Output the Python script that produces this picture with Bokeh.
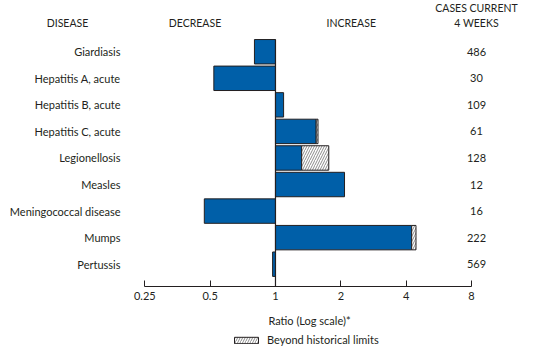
from bokeh.plotting import figure
from bokeh.layouts import column
from bokeh.models import Range1d, FixedTicker, LogAxis, Label, Legend, LegendItem
from bokeh.embed import file_html
from bokeh.resources import INLINE

diseases = ["Giardiasis", "Hepatitis A, acute", "Hepatitis B, acute", "Hepatitis C, acute",
            "Legionellosis", "Measles", "Meningococcal disease", "Mumps", "Pertussis"]
ratios = [0.80, 0.52, 1.09, 1.54, 1.32, 2.08, 0.47, 4.24, 0.97]
beyond = [None, None, None, 1.57, 1.76, None, None, 4.44, None]
cases = ["486", "30", "109", "61", "128", "12", "16", "222", "569"]
tick_vals = [0.25, 0.5, 1, 2, 4, 8]
tick_labels = ["0.25", "0.5", "1", "2", "4", "8"]

FONT = "Lato"
TXT = "#231f20"
BLUE = "#005fa8"
EDGE = "#231f20"
HATCH = dict(fill_color="white", line_color=EDGE, line_width=1,
             hatch_pattern="/", hatch_color="#8c8c8c", hatch_scale=5, hatch_weight=1)

# frame spans the full width; 0.25 sits at x=144, 8 at x=471
X0 = 0.25 * 2 ** (-144.3 / 65.34)
X1 = 8 * 2 ** (79 / 65.34)

p = figure(width=550, height=330, output_backend="svg", toolbar_location=None,
           x_axis_type="log", x_range=Range1d(X0, X1), y_range=Range1d(8.84, -1.93),
           min_border_left=0, min_border_right=0, min_border_top=0, min_border_bottom=44,
           y_axis_location=None)
p.outline_line_color = None
p.grid.visible = False
p.background_fill_color = None
p.border_fill_color = "white"

ys = list(range(len(diseases)))
left = [min(r, 1) for r in ratios]
right = [max(r, 1) for r in ratios]
p.hbar(y=ys, left=left, right=right, height=0.92, fill_color=BLUE, line_color=EDGE, line_width=1)

hy = [i for i, b in enumerate(beyond) if b is not None]
hl = [ratios[i] for i in hy]
hr = [beyond[i] for i in hy]
p.hbar(y=hy, left=hl, right=hr, height=0.92, **HATCH)

p.segment(x0=[1], y0=[-0.46], x1=[1], y1=[8.84], line_color=EDGE, line_width=1.2)

# x axis
xa = p.xaxis[0]
xa.bounds = (0.25, 8)
xa.ticker = FixedTicker(ticks=tick_vals, minor_ticks=[])
xa.major_label_overrides = {v: l for v, l in zip(tick_vals, tick_labels)}
xa.major_tick_in = 6
xa.major_tick_out = 0
xa.minor_tick_line_color = None
xa.axis_line_color = EDGE
xa.major_tick_line_color = EDGE
xa.major_label_text_font = FONT
xa.major_label_text_font_size = "11px"
xa.major_label_text_color = TXT
xa.major_label_standoff = 5

# axis title drawn as a single-tick axis so it can sit under the scale's centre
title_pos = 0.25 * 2 ** ((309 - 144.3) / 65.34)
ta = LogAxis(ticker=FixedTicker(ticks=[title_pos], minor_ticks=[]),
             major_label_overrides={title_pos: "Ratio (Log scale)*"})
ta.axis_line_color = None
ta.major_tick_line_color = None
ta.minor_tick_line_color = None
ta.major_tick_in = 0
ta.major_tick_out = 0
ta.major_label_standoff = 11
ta.major_label_text_font = FONT
ta.major_label_text_font_size = "11px"
ta.major_label_text_color = TXT
p.add_layout(ta, "below")

# disease names and counts
for i, (d, c) in enumerate(zip(diseases, cases)):
    p.add_layout(Label(x=120, y=i, x_units="screen", y_units="data", text=d,
                       text_font=FONT, text_font_size="11px", text_color=TXT,
                       text_align="right", text_baseline="middle"))
    p.add_layout(Label(x=476, y=i, x_units="screen", y_units="data", text=c,
                       text_font=FONT, text_font_size="11px", text_color=TXT,
                       text_align="center", text_baseline="middle"))

headers = [("DISEASE", 67, -1.09), ("DECREASE", 194.5, -1.09), ("INCREASE", 350.7, -1.09),
           ("CASES CURRENT", 476, -1.63), ("4 WEEKS", 476, -1.09)]
for t, x, y in headers:
    p.add_layout(Label(x=x, y=y, x_units="screen", y_units="data", text=t,
                       text_font=FONT, text_font_size="10.5px", text_color=TXT,
                       text_align="center", text_baseline="middle"))

# legend strip (swatch renderer kept outside the visible range)
lg = figure(width=550, height=22, output_backend="svg", toolbar_location=None,
            x_range=Range1d(0, 1), y_range=Range1d(0, 1),
            min_border=0, x_axis_location=None, y_axis_location=None)
lg.outline_line_color = None
lg.grid.visible = False
lg.background_fill_color = None
lg.border_fill_color = "white"
swatch = lg.hbar(y=[-5], left=[-5], right=[-4], height=1, **HATCH)
legend = Legend(items=[LegendItem(label="Beyond historical limits", renderers=[swatch])],
                location=(231, 6), orientation="horizontal",
                border_line_color=None, background_fill_alpha=0,
                padding=0, margin=0, spacing=0,
                glyph_width=30, glyph_height=8, label_standoff=6,
                label_text_font=FONT, label_text_font_size="11px", label_text_color=TXT)
lg.add_layout(legend, "center")

layout = column(p, lg, spacing=0)
open("out.html", "w").write(file_html(layout, INLINE))
